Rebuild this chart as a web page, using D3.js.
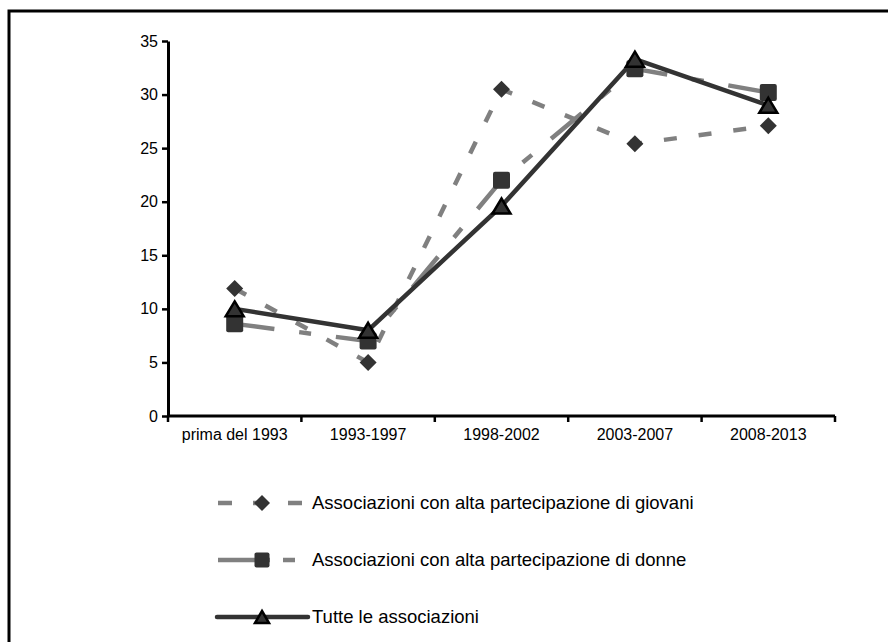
<!DOCTYPE html>
<html>
<head>
<meta charset="utf-8">
<script src="https://cdn.jsdelivr.net/npm/d3@7/dist/d3.min.js"></script>
<style>
  html, body { margin: 0; padding: 0; background: #fff; }
  svg { display: block; font-family: "Liberation Sans", Arial, sans-serif; }
</style>
</head>
<body>
<svg id="chart" width="888" height="642"></svg>
<script>
const categories = ["prima del 1993", "1993-1997", "1998-2002", "2003-2007", "2008-2013"];
const giovani = [11.9, 5.0, 30.5, 25.4, 27.1];
const donne   = [8.6, 7.0, 22.0, 32.4, 30.2];
const tutte   = [10.0, 8.0, 19.6, 33.3, 29.0];
const yTicks  = [0, 5, 10, 15, 20, 25, 30, 35];
const seriesNames = [
  "Associazioni con alta partecipazione di giovani",
  "Associazioni con alta partecipazione di donne",
  "Tutte le associazioni"
];

const svg = d3.select("#chart");

// outer frame (only top and left edges visible in the reference)
svg.append("path")
  .attr("d", "M9,660 L9,11 L900,11")
  .attr("fill", "none").attr("stroke", "#000").attr("stroke-width", 3);

const x = d3.scaleBand().domain(categories).range([168, 835]).padding(0);
const y = d3.scaleLinear().domain([0, 35]).range([416, 41]);
const cx = c => x(c) + x.bandwidth() / 2;

// Y axis
const yAxis = svg.append("g").attr("transform", "translate(168,0)")
  .call(d3.axisLeft(y).tickValues(yTicks).tickSize(6).tickPadding(4).tickSizeOuter(0));
yAxis.select(".domain").attr("stroke", "#000").attr("stroke-width", 3);
yAxis.selectAll(".tick line").attr("stroke", "#000").attr("stroke-width", 2.5);
yAxis.selectAll(".tick text").attr("font-size", 16).attr("fill", "#000")
  .attr("font-family", "Liberation Sans, Arial, sans-serif");

// X axis: ticks at band boundaries
const xAxisG = svg.append("g").attr("transform", "translate(0,416)");
xAxisG.append("line").attr("x1", 168).attr("x2", 835).attr("y1", 0).attr("y2", 0)
  .attr("stroke", "#000").attr("stroke-width", 3);
const bounds = categories.map(c => x(c)).concat([x(categories[categories.length - 1]) + x.bandwidth()]);
xAxisG.selectAll("line.tk").data(bounds).join("line").attr("class", "tk")
  .attr("x1", d => d).attr("x2", d => d).attr("y1", 0).attr("y2", 6)
  .attr("stroke", "#000").attr("stroke-width", 2.5);
xAxisG.selectAll("text").data(categories).join("text")
  .attr("x", d => cx(d)).attr("y", 24)
  .attr("text-anchor", "middle").attr("font-size", 16).attr("fill", "#000")
  .text(d => d);

// marker generators
function diamond(sel, r) {
  return sel.attr("d", `M0,${-r} L${r},0 L0,${r} L${-r},0 Z`);
}
function square(sel, s) {
  return sel.attr("d", `M${-s/2+2},${-s/2} H${s/2-2} Q${s/2},${-s/2} ${s/2},${-s/2+2} V${s/2-2} Q${s/2},${s/2} ${s/2-2},${s/2} H${-s/2+2} Q${-s/2},${s/2} ${-s/2},${s/2-2} V${-s/2+2} Q${-s/2},${-s/2} ${-s/2+2},${-s/2} Z`);
}
function triangle(sel, w, h) {
  return sel.attr("d", `M0,${-h/2} L${w/2},${h/2} L${-w/2},${h/2} Z`);
}

const line = d3.line().x((d, i) => cx(categories[i])).y(d => y(d));

// Giovani
svg.append("path").datum(giovani).attr("d", line)
  .attr("fill", "none").attr("stroke", "#808080").attr("stroke-width", 4.5)
  .attr("stroke-dasharray", "13,22");
svg.selectAll("path.mg").data(giovani).join("path").attr("class", "mg")
  .call(diamond, 8.5)
  .attr("transform", (d, i) => `translate(${cx(categories[i])},${y(d)})`)
  .attr("fill", "#333");

// Donne
svg.append("path").datum(donne).attr("d", line)
  .attr("fill", "none").attr("stroke", "#808080").attr("stroke-width", 4.5)
  .attr("stroke-dasharray", "40,25,12,25");
svg.selectAll("path.md").data(donne).join("path").attr("class", "md")
  .call(square, 17)
  .attr("transform", (d, i) => `translate(${cx(categories[i])},${y(d)})`)
  .attr("fill", "#333");

// Tutte
svg.append("path").datum(tutte).attr("d", line)
  .attr("fill", "none").attr("stroke", "#333").attr("stroke-width", 4.5)
  .attr("stroke-linejoin", "round");
svg.selectAll("path.mt").data(tutte).join("path").attr("class", "mt")
  .call(triangle, 18, 15)
  .attr("transform", (d, i) => `translate(${cx(categories[i])},${y(d)})`)
  .attr("fill", "#333").attr("stroke", "#000").attr("stroke-width", 2.5)
  .attr("stroke-linejoin", "miter");

// Legend
const legY = [503, 560, 617];
const lg = svg.append("g");
// item 1
lg.append("line").attr("x1", 218).attr("x2", 306).attr("y1", legY[0]).attr("y2", legY[0])
  .attr("stroke", "#808080").attr("stroke-width", 4.5).attr("stroke-dasharray", "14,21");
lg.append("path").call(diamond, 8).attr("transform", `translate(262,${legY[0]})`).attr("fill", "#333");
// item 2
lg.append("line").attr("x1", 218).attr("x2", 306).attr("y1", legY[1]).attr("y2", legY[1])
  .attr("stroke", "#808080").attr("stroke-width", 4.5).attr("stroke-dasharray", "52,13,12,25");
lg.append("path").call(square, 15).attr("transform", `translate(262,${legY[1]})`).attr("fill", "#333");
// item 3
lg.append("line").attr("x1", 217).attr("x2", 308).attr("y1", legY[2]).attr("y2", legY[2])
  .attr("stroke", "#333").attr("stroke-width", 4.5).attr("stroke-linecap", "round");
lg.append("path").call(triangle, 14, 12).attr("transform", `translate(262,${legY[2]})`)
  .attr("fill", "#333").attr("stroke", "#000").attr("stroke-width", 2.5);

lg.selectAll("text").data(seriesNames).join("text")
  .attr("x", 312).attr("y", (d, i) => legY[i]).attr("dy", "0.35em")
  .attr("font-size", 18.5).attr("fill", "#000").text(d => d);
</script>
</body>
</html>
